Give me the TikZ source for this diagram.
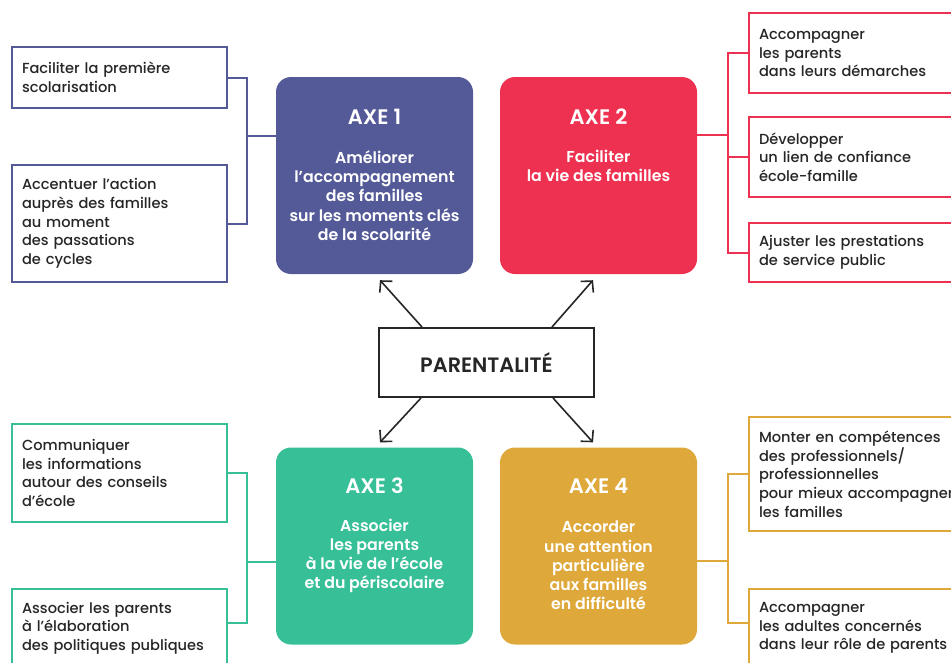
\documentclass[tikz,border=0pt]{standalone}
\usepackage{fontspec}
\setmainfont{Poppins}[BoldFont={Poppins SemiBold}]
\newfontfamily\sidefont{Poppins Medium}
\usetikzlibrary{arrows.meta,calc}
\definecolor{cpurple}{HTML}{545A98}
\definecolor{cred}{HTML}{EE3150}
\definecolor{cgreen}{HTML}{37BF98}
\definecolor{cgold}{HTML}{DFA83A}
\definecolor{cdark}{HTML}{262626}
\tikzset{
  axe/.style={rounded corners=15pt, minimum width=197pt, minimum height=197pt, inner sep=0pt},
  axetitle/.style={text=white, font=\fontsize{21}{24}\selectfont\bfseries},
  axebody/.style={text=white, align=center, font=\fontsize{15.8}{19.25}\selectfont\bfseries},
  side/.style={draw, line width=2pt, fill=white, text=cdark, align=left, inner xsep=10pt, inner ysep=0pt,
    font=\fontsize{14.6}{18.7}\sidefont},
  leftbox/.style={side, text width=195pt, minimum width=215pt},
  rightbox/.style={side, text width=215pt, minimum width=235pt, anchor=west},
  link/.style={line width=2pt},
  arr/.style={line width=1.6pt, draw=cdark, -{Straight Barb[length=8pt, width=17pt, line width=1.6pt]}},
}
\begin{document}
\begin{tikzpicture}[x=1pt, y=-1pt]
\useasboundingbox (0,0) rectangle (951,662);
% axes
\node[axe, fill=cpurple] (ax1) at (374.5,175.5) {};
\node[axe, fill=cred] (ax2) at (598.5,175.5) {};
\node[axe, fill=cgreen] (ax3) at (374.5,546) {};
\node[axe, fill=cgold] (ax4) at (598.5,546) {};
\node[axetitle] (t1) at (374.5,117) {AXE 1};
\node[axetitle] (t2) at (598.5,117) {AXE 2};
\node[axetitle] (t3) at (374.5,486) {AXE 3};
\node[axetitle] (t4) at (598.5,486) {AXE 4};
\node[axebody] (b1) at (374.5,195.5) {Améliorer\\l’accompagnement\\des familles\\sur les moments clés\\de la scolarité};
\node[axebody] (b2) at (598.5,166) {Faciliter\\la vie des familles};
\node[axebody] (b3) at (374.5,556) {Associer\\les parents\\à la vie de l’école\\et du périscolaire};
\node[axebody] (b4) at (598.5,565.5) {Accorder\\une attention\\particulière\\aux familles\\en difficulté};
% centre
\node[draw=cdark, line width=2pt, minimum width=215pt, minimum height=69pt, text=cdark,
  font=\fontsize{20.8}{24}\selectfont\bfseries] (P) at (486.5,362.5) {PARENTALITÉ};
\draw[arr] ($(P.north)+(-64.5,0)$) -- ($(ax1.south)+(5.5,6)$);
\draw[arr] ($(P.north)+(65.5,0)$) -- ($(ax2.south)+(-5.5,6)$);
\draw[arr] ($(P.south)+(-65.5,0)$) -- ($(ax3.north)+(5.5,-5)$);
\draw[arr] ($(P.south)+(66.5,0)$) -- ($(ax4.north)+(-5.5,-5)$);
% left purple
\node[leftbox, draw=cpurple, minimum height=61pt] (a1a) at (119.5,77.5) {Faciliter la première\\scolarisation};
\node[leftbox, draw=cpurple, minimum height=117pt] (a1b) at (119.5,223.5) {Accentuer l’action\\auprès des familles\\au moment\\des passations\\de cycles};
\coordinate (s1) at (247,136);
\draw[link, cpurple] (a1a.east) -| (s1) |- (a1b.east);
\draw[link, cpurple] (s1) -- (s1 -| ax1.west);
% right red
\node[rightbox, draw=cred, minimum height=80pt] (r1) at (748,53) {Accompagner\\les parents\\dans leurs démarches};
\node[rightbox, draw=cred, minimum height=80pt] (r2) at (748,157) {Développer\\un lien de confiance\\école-famille};
\node[rightbox, draw=cred, minimum height=59pt] (r3) at (748,252.5) {Ajuster les prestations\\de service public};
\coordinate (s2) at (728,135);
\draw[link, cred] (r1.west) -| (s2) |- (r3.west);
\draw[link, cred] (r2.west) -- (r2.west -| s2);
\draw[link, cred] (s2) -- (s2 -| ax2.east);
% left green
\node[leftbox, draw=cgreen, minimum height=98pt] (g1) at (119.5,473) {Communiquer\\les informations\\autour des conseils\\d’école};
\node[leftbox, draw=cgreen, minimum height=78pt] (g2) at (119.5,628) {Associer les parents\\à l’élaboration\\des politiques publiques};
\coordinate (s3) at (247,562);
\coordinate (g2c) at ($(g2.east)+(0,-5)$);
\draw[link, cgreen] (g1.east) -| (s3) |- (g2c);
\draw[link, cgreen] (s3) -- (s3 -| ax3.west);
% right gold
\node[rightbox, draw=cgold, minimum height=114pt] (y1) at (748,474) {Monter en compétences\\des professionnels/\\professionnelles\\pour mieux accompagner\\les familles};
\node[rightbox, draw=cgold, minimum height=78pt] (y2) at (748,628) {Accompagner\\les adultes concernés\\dans leur rôle de parents};
\coordinate (s4) at (728,561);
\coordinate (y2c) at ($(y2.west)+(0,-5)$);
\draw[link, cgold] (y1.west) -| (s4) |- (y2c);
\draw[link, cgold] (s4) -- (s4 -| ax4.east);
\end{tikzpicture}
\end{document}
